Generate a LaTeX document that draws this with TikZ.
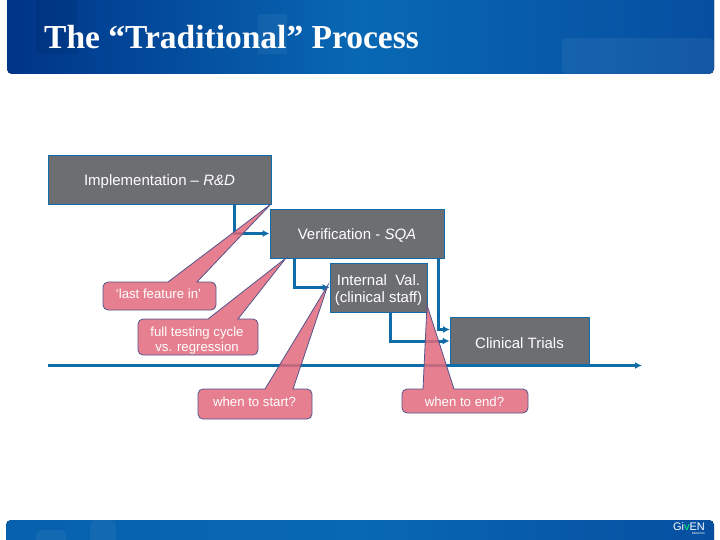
\documentclass[tikz,border=0pt]{standalone}
\usepackage{fontspec}
\setmainfont{Liberation Sans}
\newfontfamily\titlefont{Liberation Serif}
\usetikzlibrary{arrows.meta,positioning}
\definecolor{p1}{RGB}{109,110,113}
\definecolor{p2}{RGB}{15,108,168}
\definecolor{p3}{RGB}{226,106,124}
\definecolor{p4}{RGB}{84,84,140}
\definecolor{p5}{RGB}{0,52,136}
\definecolor{p6}{RGB}{8,104,180}
\definecolor{p7}{RGB}{6,78,160}

\begin{document}
\begin{tikzpicture}[
    x=1pt, y=-1pt,
    stagebox/.style={rectangle, draw=p2, line width=0.8pt, fill=p1, text=white, font=\fontsize{15}{17}\selectfont, align=center, inner sep=0pt, execute at begin node=\rule{0pt}{15pt}},
    flow/.style={draw=p2, line width=3pt, -{Latex[length=7pt,width=7pt]}},
    callout/.style={draw=p4, line width=0.8pt, fill=p3, fill opacity=0.85},
    calltext/.style={text=white, font=\fontsize{13.2}{15}\selectfont, align=center, inner sep=0pt}
]
    \useasboundingbox (0,0) rectangle (720,540);

    % Header band
    \fill[left color=p5, right color=p7, middle color=p6, rounded corners=5pt] (7,-10) rectangle (714,74);
    \fill[white, opacity=0.05] (258,14) rectangle (287,54);
    \fill[white, opacity=0.06, rounded corners=5pt] (562,38) -- (714,38) -- (714,74) -- (562,74) -- cycle;
    \fill[black, opacity=0.06] (36,0) rectangle (78,54);
    \node[anchor=west, inner sep=0pt, text=white, font=\titlefont\fontsize{33.5}{36}\selectfont\bfseries] (title) at (44,37) {The “Traditional” Process};

    % Footer band
    \fill[left color=p6!85!p5, right color=p7, middle color=p6, rounded corners=5pt] (6,520) rectangle (714,550);
    \fill[white, opacity=0.05, rounded corners=5pt] (36,530) rectangle (66,550);
    \fill[white, opacity=0.05, rounded corners=5pt] (90,520) rectangle (116,545);
    \node[inner sep=0pt, text=white, font=\fontsize{11}{11}\selectfont] (logo) at (689,527) {Gi\textcolor{green!60!cyan}{v}EN};
    \node[inner sep=0pt, text=white, font=\fontsize{3}{3}\selectfont, below=1pt of logo.south east, anchor=north east] (logosub) {IMAGING};

    % Stages
    \node[stagebox, minimum width=223pt, minimum height=49pt] (impl) at (159.5,179.5) {Implementation -- \textit{R\&D}};
    \node[stagebox, minimum width=174pt, minimum height=49pt] (verif) at (357,233.5) {Verification - \textit{SQA}};
    \node[stagebox, minimum width=97pt, minimum height=49pt] (internal) at (378.5,287.5) {\rule{0pt}{17pt}Internal\ \ Val.\\(clinical staff)};
    \node[stagebox, minimum width=139pt, minimum height=48pt] (clinical) at (519.5,341) {Clinical Trials};

    % Connector ends
    \coordinate (implout) at (234.5,204);
    \coordinate (verifout) at (294.5,258);
    \coordinate (verifoutb) at (438.5,258);
    \coordinate (internalout) at (390.5,312);
    \coordinate (clinicalin) at (450,329.5);
    \coordinate (timestart) at (48,365.5);
    \coordinate (timeend) at (642,365.5);

    \draw[flow] (implout) |- (verif.west);
    \draw[flow] (verifout) |- (internal.west);
    \draw[flow] (verifoutb) |- (clinicalin);
    \draw[flow] (internalout) |- (clinical.west);
    \draw[flow] (timestart) -- (timeend);

    % Callouts
    \draw[callout] (168,282) -- (271,204) -- (197,282) [rounded corners=5pt] -- (216,282) -- (216,310) -- (103,310) -- (103,282) [sharp corners] -- cycle;
    \draw[callout] (208,319) -- (286,258) -- (238,319) [rounded corners=5pt] -- (258,319) -- (258,355) -- (138,355) -- (138,319) [sharp corners] -- cycle;
    \draw[callout] (265,389) -- (328,285) -- (293,389) [rounded corners=5pt] -- (312,389) -- (312,419) -- (198,419) -- (198,389) [sharp corners] -- cycle;
    \draw[callout] (423,389) -- (427,305) -- (454,389) [rounded corners=5pt] -- (528,389) -- (528,413) -- (402,413) -- (402,389) [sharp corners] -- cycle;

    \node[calltext] (lastfeature) at (158.5,293.5) {‘last feature in’};
    \node[calltext] (fullcycle) at (197,340.5) {full testing cycle\\vs. regression};
    \node[calltext] (whenstart) at (254.5,401.5) {when to start?};
    \node[calltext] (whenend) at (464.5,401.5) {when to end?};
\end{tikzpicture}
\end{document}
